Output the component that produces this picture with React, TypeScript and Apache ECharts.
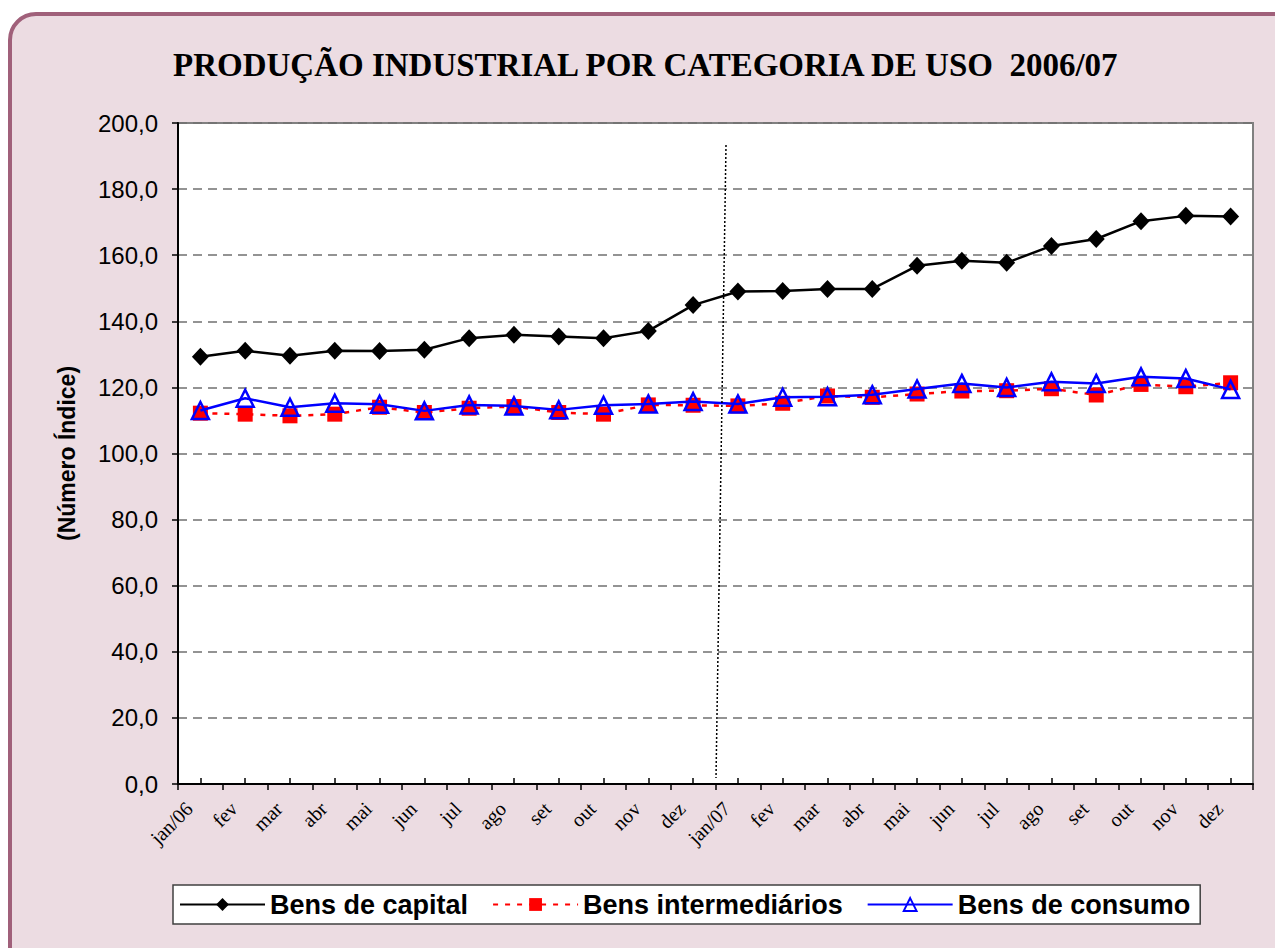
import React, { useEffect, useRef } from "react";
import * as echarts from "echarts";

const categories = [
  "jan/06", "fev", "mar", "abr", "mai", "jun", "jul", "ago", "set", "out", "nov", "dez",
  "jan/07", "fev", "mar", "abr", "mai", "jun", "jul", "ago", "set", "out", "nov", "dez",
];

const bensCapital = [
  129.3, 131.1, 129.6, 131.1, 131.0, 131.4, 134.9, 135.9, 135.4, 134.9, 137.1, 144.9,
  149.0, 149.2, 149.8, 149.8, 156.8, 158.3, 157.7, 162.8, 164.9, 170.3, 171.9, 171.7,
];

const bensIntermediarios = [
  112.2, 111.9, 111.4, 111.9, 114.0, 112.4, 113.7, 114.2, 112.4, 111.9, 114.7, 114.6,
  114.4, 115.2, 117.4, 117.0, 118.0, 118.9, 119.0, 119.6, 117.7, 120.9, 120.2, 121.4,
];

const bensConsumo = [
  113.0, 116.7, 114.0, 115.2, 114.9, 112.9, 114.7, 114.4, 113.2, 114.6, 115.0, 115.7,
  115.0, 117.0, 117.2, 117.8, 119.5, 121.2, 120.0, 121.7, 121.2, 123.2, 122.7, 119.4,
];

const seriesNames = ["Bens de capital", "Bens intermediários", "Bens de consumo"];
const titleText = "PRODUÇÃO INDUSTRIAL POR CATEGORIA DE USO  2006/07";
const yAxisName = "(Número Índice)";

export default function App() {
  const ref = useRef<HTMLDivElement>(null);

  useEffect(() => {
    if (!ref.current) return;
    const chart = echarts.init(ref.current, null, { renderer: "svg" });
    const catIdx = categories.map((_, i) => String(i));
    const option: any = {
      animation: false,
      backgroundColor: "transparent",
      title: {
        text: titleText,
        left: 168,
        top: 43,
        textStyle: {
          fontFamily: "Liberation Serif",
          fontWeight: "bold",
          fontSize: 33,
          color: "#000",
        },
      },
      grid: {
        left: 178,
        top: 123,
        right: 22,
        bottom: 164,
        show: true,
        backgroundColor: "#ffffff",
        borderColor: "#808080",
        borderWidth: 2,
      },
      legend: {
        data: seriesNames,
        left: 173,
        top: 885,
        orient: "horizontal",
        itemWidth: 85,
        itemHeight: 16,
        itemGap: 24,
        padding: [6, 10, 6, 6],
        backgroundColor: "#ffffff",
        borderColor: "#404040",
        borderWidth: 1.5,
        textStyle: {
          fontFamily: "Liberation Sans",
          fontWeight: "bold",
          fontSize: 27,
          color: "#000",
        },
      },
      xAxis: [
        {
          type: "category",
          data: catIdx,
          boundaryGap: true,
          axisLine: { show: true, lineStyle: { color: "#000", width: 2 } },
          axisTick: { show: true, inside: false, length: 6, interval: 0, lineStyle: { color: "#000", width: 1.5 } },
          axisLabel: {
            interval: 0,
            rotate: 45,
            margin: 10,
            padding: [0, 16, 0, 0],
            fontFamily: "Liberation Serif",
            fontSize: 20,
            color: "#000",
            formatter: (_v: string, i: number) => categories[i],
          },
          splitLine: { show: false },
        },
        {
          type: "category",
          data: catIdx,
          position: "bottom",
          boundaryGap: true,
          axisLine: { show: false },
          axisTick: { show: true, inside: true, alignWithLabel: true, length: 6, interval: 0, lineStyle: { color: "#000", width: 1.5 } },
          axisLabel: { show: false },
          splitLine: { show: false },
        },
      ],
      yAxis: {
        type: "value",
        min: 0,
        max: 200,
        interval: 20,
        name: yAxisName,
        nameLocation: "middle",
        nameGap: 100,
        nameTextStyle: {
          fontFamily: "Liberation Sans",
          fontWeight: "bold",
          fontSize: 23,
          color: "#000",
        },
        axisLine: { show: true, lineStyle: { color: "#000", width: 2 } },
        axisTick: { show: true, inside: false, length: 6, lineStyle: { color: "#000", width: 1.5 } },
        axisLabel: {
          margin: 20,
          fontFamily: "Liberation Sans",
          fontSize: 24,
          color: "#000",
          formatter: (v: number) => v.toFixed(1).replace(".", ","),
        },
        splitLine: { show: true, lineStyle: { color: "#707070", width: 1.5, type: [9, 6] } },
      },
      graphic: [
        {
          type: "line",
          shape: { x1: 726, y1: 145, x2: 716, y2: 778 },
          style: { stroke: "#000", lineWidth: 1.5, lineDash: [2, 2] },
          z: 10,
        },
      ],
      series: [
        {
          name: seriesNames[0],
          type: "line",
          data: bensCapital,
          xAxisIndex: 0,
          symbol: "diamond",
          symbolSize: [17, 18],
          itemStyle: { color: "#000" },
          lineStyle: { color: "#000", width: 2.5 },
          z: 3,
        },
        {
          name: seriesNames[1],
          type: "line",
          data: bensIntermediarios,
          xAxisIndex: 0,
          symbol: "rect",
          symbolSize: 15,
          itemStyle: { color: "#ff0000" },
          lineStyle: { color: "#ff0000", width: 2.5, type: [5, 7] },
          z: 4,
        },
        {
          name: seriesNames[2],
          type: "line",
          data: bensConsumo,
          xAxisIndex: 0,
          symbol: "triangle",
          symbolSize: 17,
          itemStyle: { color: "rgba(0,0,0,0)", borderColor: "#0000ff", borderWidth: 2.5 },
          lineStyle: { color: "#0000ff", width: 2.5 },
          z: 5,
        },
      ],
    };
    chart.setOption(option);
    return () => chart.dispose();
  }, []);

  return (
    <div style={{ position: "fixed", left: 0, top: 0, width: 1275, height: 948, background: "#ffffff", overflow: "hidden" }}>
      <div
        style={{
          position: "absolute",
          left: 8,
          top: 12,
          width: 1300,
          height: 970,
          boxSizing: "border-box",
          border: "4px solid #a0607a",
          borderRadius: 28,
          background: "#ecdce2",
        }}
      />
      <div ref={ref} style={{ position: "absolute", left: 0, top: 0, width: 1275, height: 948 }} />
    </div>
  );
}
